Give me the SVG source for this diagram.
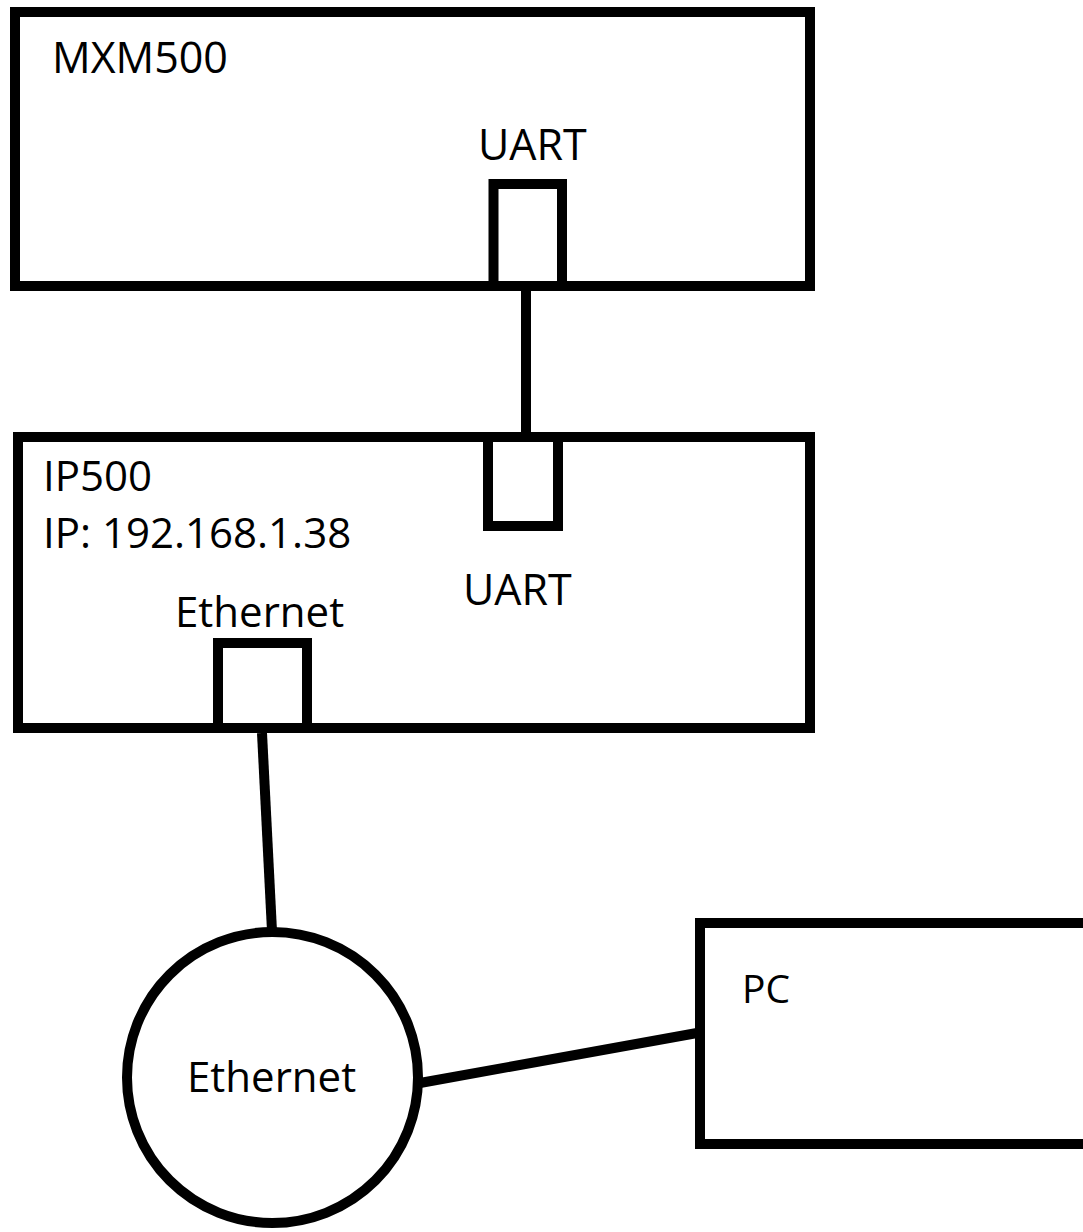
<svg xmlns="http://www.w3.org/2000/svg" width="1083" height="1232" viewBox="0 0 1083 1232">
<style>
.box{fill:none;stroke:#000;stroke-width:10}
.wire{fill:none;stroke:#000;stroke-width:10}
.lbl{font-family:"Open Sans","Noto Sans",sans-serif;font-size:42px;fill:#000}
.port{font-size:43px}
</style>
<rect width="1083" height="1232" fill="#fff"/>
<g id="mxm500">
<rect class="box" x="15" y="12" width="795" height="274"/>
<text class="lbl" x="52" y="73" style="font-size:43px">MXM500</text>
</g>
<g id="mxm500-uart">
<rect class="box" x="493.5" y="184" width="68.5" height="102"/>
<text class="lbl port" x="478" y="160">UART</text>
</g>
<g id="ip500">
<rect class="box" x="18" y="437" width="792" height="291"/>
<text class="lbl" x="43" y="491">IP500</text>
<text class="lbl" x="43" y="548">IP: 192.168.1.38</text>
</g>
<g id="ip500-uart">
<rect class="box" x="488" y="437" width="70" height="89"/>
<text class="lbl port" x="463" y="605">UART</text>
</g>
<g id="ip500-ethernet">
<rect class="box" x="218" y="643" width="89" height="85"/>
<text class="lbl" x="175" y="627">Ethernet</text>
</g>
<g id="ethernet">
<circle class="box" cx="272.5" cy="1077.5" r="145.5"/>
<text class="lbl" x="187" y="1092">Ethernet</text>
</g>
<g id="pc">
<rect class="box" x="700" y="923" width="390" height="221"/>
<text class="lbl" x="742" y="1003" style="font-size:39px">PC</text>
</g>
<g id="connectors">
<line class="wire" x1="526" y1="291" x2="526" y2="432"/>
<line class="wire" x1="262" y1="733" x2="272" y2="931"/>
<line class="wire" x1="420" y1="1083" x2="697" y2="1033"/>
</g>
</svg>
